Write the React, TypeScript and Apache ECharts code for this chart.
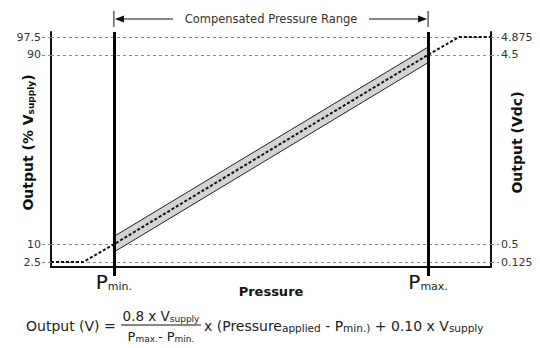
import React, { useEffect, useRef } from "react";
import * as echarts from "echarts";

// ---- data ----
const pressure = [0, 7.3, 14.3, 85.7, 92.7, 100];
const outputPct = [2.5, 2.5, 10, 90, 97.5, 97.5];
const bandPressure = [14.3, 85.7];
const bandLow = [6.7, 86.7];
const bandHigh = [13.3, 93.3];
const pMin = 14.3;
const pMax = 85.7;
const pctTicks = [2.5, 10, 90, 97.5];
const vdcTicks = [0.125, 0.5, 4.5, 4.875];
const vdcPerPct = 0.05;
const yMin = 0.4;
const yMax = 99.65;

const FONT = "DejaVu Sans";

export default function App() {
  const ref = useRef<HTMLDivElement>(null);
  useEffect(() => {
    if (!ref.current) return;
    const chart = echarts.init(ref.current, undefined, { renderer: "svg" });
    const option: any = {
      animation: false,
      grid: { left: 51, right: 49, top: 32, bottom: 81, containLabel: false, outerBoundsMode: "none" },
      xAxis: {
        type: "value",
        min: 0,
        max: 100,
        axisLine: { show: true, onZero: false, lineStyle: { color: "#111", width: 2 } },
        axisTick: { show: true, customValues: [pMin, pMax], length: 9, lineStyle: { color: "#000", width: 3 } },
        axisLabel: {
          show: true,
          customValues: [pMin, pMax],
          margin: 3,
          formatter: (v: number) => (v < 50 ? "{p|P}{s|min.}" : "{p|P}{s|max.}"),
          rich: {
            p: { fontSize: 20, fontFamily: FONT, color: "#111", lineHeight: 22, verticalAlign: "bottom" },
            s: { fontSize: 11, fontFamily: FONT, color: "#222", lineHeight: 6, verticalAlign: "bottom" },
          },
        },
        splitLine: { show: false },
        name: "Pressure",
        nameLocation: "middle",
        nameGap: 18,
        nameMoveOverlap: false,
        nameTextStyle: { fontFamily: FONT, fontWeight: "bold", fontSize: 13, color: "#111" },
      },
      yAxis: [
        {
          type: "value",
          position: "left",
          min: yMin,
          max: yMax,
          axisLine: { show: true, lineStyle: { color: "#111", width: 2 } },
          axisTick: { show: true, customValues: pctTicks, length: 9, lineStyle: { color: "#888", width: 1, type: [3, 3] } },
          axisLabel: { customValues: pctTicks, margin: 10, color: "#333", fontSize: 11, fontFamily: FONT, formatter: (v: number) => String(v) },
          splitLine: { show: false },
          name: "{m|Output (% V}{s|supply}{m|)}",
          nameLocation: "middle",
          nameRotate: 90,
          nameGap: 16,
          nameMoveOverlap: false,
          nameTextStyle: {
            padding: [0, 0, 0, 14],
            rich: {
              m: { fontFamily: FONT, fontWeight: "bold", fontSize: 14, color: "#111", lineHeight: 16, verticalAlign: "bottom" },
              s: { fontFamily: FONT, fontWeight: "bold", fontSize: 9, color: "#111", lineHeight: 6, verticalAlign: "bottom" },
            },
          },
        },
        {
          type: "value",
          position: "right",
          min: yMin * vdcPerPct,
          max: yMax * vdcPerPct,
          axisLine: { show: true, lineStyle: { color: "#111", width: 2 } },
          axisTick: { show: true, customValues: vdcTicks, length: 8, lineStyle: { color: "#888", width: 1, type: [3, 3] } },
          axisLabel: { customValues: vdcTicks, margin: 10, color: "#333", fontSize: 11, fontFamily: FONT, formatter: (v: number) => String(v) },
          splitLine: { show: false },
          name: "Output (Vdc)",
          nameLocation: "middle",
          nameRotate: 90,
          nameGap: 19,
          nameMoveOverlap: false,
          nameTextStyle: { fontFamily: FONT, fontWeight: "bold", fontSize: 14, color: "#111", padding: [0, 0, 0, 14] },
        },
      ],
      series: [
        {
          type: "line",
          name: "grid",
          data: [],
          z: 1,
          silent: true,
          markLine: {
            z: 1,
            silent: true,
            symbol: ["none", "none"],
            label: { show: false },
            lineStyle: { color: "#888", width: 1, type: [3, 3] },
            data: pctTicks.map((v) => ({ yAxis: v })),
          },
        },
        {
          type: "custom",
          name: "band",
          z: 2,
          silent: true,
          data: [[bandPressure[0], bandLow[0]]],
          renderItem: (_params: any, api: any) => {
            const pts: number[][] = [];
            bandPressure.forEach((p, i) => pts.push(api.coord([p, bandHigh[i]])));
            for (let i = bandPressure.length - 1; i >= 0; i--) pts.push(api.coord([bandPressure[i], bandLow[i]]));
            return { type: "polygon", shape: { points: pts }, style: { fill: "#d4d4d4", stroke: "#222", lineWidth: 1 } };
          },
        },
        {
          type: "line",
          name: "output",
          z: 3,
          silent: true,
          symbol: "none",
          data: pressure.map((p, i) => [p, outputPct[i]]),
          lineStyle: { color: "#111", width: 2, type: [3, 2] },
          markLine: {
            z: 5,
            silent: true,
            symbol: ["none", "none"],
            label: { show: false },
            lineStyle: { color: "#000", width: 3, type: "solid" },
            data: [{ xAxis: pMin }, { xAxis: pMax }],
          },
        },
      ],
    };
    chart.setOption(option);

    const x0 = chart.convertToPixel({ xAxisIndex: 0 }, pMin) as number;
    const x1 = chart.convertToPixel({ xAxisIndex: 0 }, pMax) as number;
    const cx = (x0 + x1) / 2;
    const ay = 19;
    const lineStyle = { stroke: "#111", lineWidth: 1 };
    const mainRich = (size: number, sub: number) => ({
      m: { fontFamily: FONT, fontSize: size, fill: "#222", lineHeight: 16, verticalAlign: "bottom" },
      s: { fontFamily: FONT, fontSize: sub, fill: "#222", lineHeight: 6, verticalAlign: "bottom" },
    });
    chart.setOption({
      graphic: [
        { type: "line", shape: { x1: x0, y1: 11, x2: x0, y2: 27 }, style: lineStyle, silent: true },
        { type: "line", shape: { x1: x1, y1: 11, x2: x1, y2: 27 }, style: lineStyle, silent: true },
        { type: "line", shape: { x1: x0 + 8, y1: ay, x2: cx - 98, y2: ay }, style: lineStyle, silent: true },
        { type: "line", shape: { x1: cx + 98, y1: ay, x2: x1 - 8, y2: ay }, style: lineStyle, silent: true },
        { type: "polygon", shape: { points: [[x0 + 1, ay], [x0 + 10, ay - 3.5], [x0 + 10, ay + 3.5]] }, style: { fill: "#111" }, silent: true },
        { type: "polygon", shape: { points: [[x1 - 1, ay], [x1 - 10, ay - 3.5], [x1 - 10, ay + 3.5]] }, style: { fill: "#111" }, silent: true },
        {
          type: "text",
          x: cx,
          y: ay,
          silent: true,
          style: { text: "Compensated Pressure Range", fontFamily: FONT, fontSize: 11.5, fill: "#333", align: "center", verticalAlign: "middle" },
        },
        {
          type: "text",
          x: 26,
          y: 325,
          silent: true,
          style: { text: "{m|Output (V) =}", rich: mainRich(14, 10.5), align: "left", verticalAlign: "middle" },
        },
        {
          type: "text",
          x: 161,
          y: 315,
          silent: true,
          style: { text: "{m|0.8 x V}{s|supply}", rich: mainRich(13.5, 9), align: "center", verticalAlign: "middle" },
        },
        { type: "line", shape: { x1: 121, y1: 325, x2: 201, y2: 325 }, style: lineStyle, silent: true },
        {
          type: "text",
          x: 161,
          y: 335,
          silent: true,
          style: { text: "{m|P}{s|max.}{m|- P}{s|min.}", rich: mainRich(13, 9), align: "center", verticalAlign: "middle" },
        },
        {
          type: "text",
          x: 204,
          y: 325,
          silent: true,
          style: {
            text: "{m|x (Pressure}{s|applied}{m| - P}{s|min.)}{m| + 0.10 x V}{s|supply}",
            rich: mainRich(14, 10.5),
            align: "left",
            verticalAlign: "middle",
          },
        },
      ],
    });
    return () => chart.dispose();
  }, []);
  return <div ref={ref} style={{ position: "absolute", left: 0, top: 0, width: 540, height: 348 }} />;
}
